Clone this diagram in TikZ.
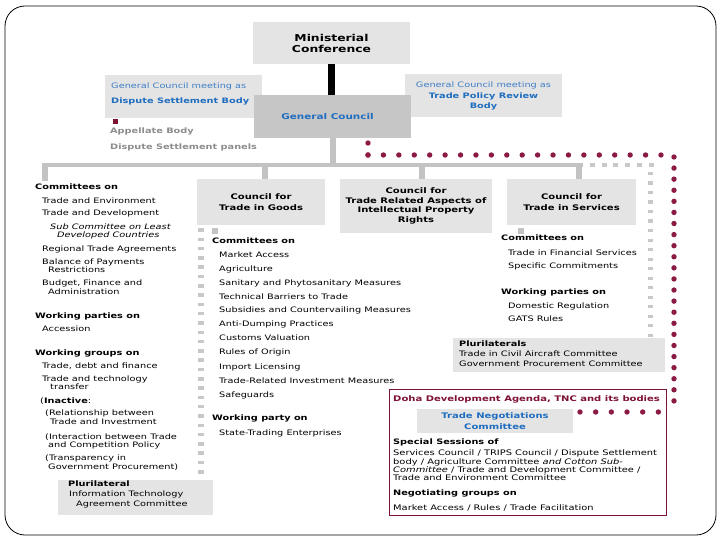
\documentclass[tikz,border=0pt]{standalone}
\usepackage{fontspec}
\setmainfont{DejaVu Sans}[FakeStretch=1.3]
\usetikzlibrary{calc}
\definecolor{boxlt}{HTML}{E4E4E4}
\definecolor{boxdk}{HTML}{C6C6C6}
\definecolor{blu}{HTML}{1F6DBF}
\definecolor{blult}{HTML}{3E7EC6}
\definecolor{maroon}{HTML}{7E1233}
\definecolor{dotc}{HTML}{8B1A45}
\definecolor{gtxt}{HTML}{8C8C8C}
\definecolor{glin}{HTML}{C3C3C3}
\definecolor{gsq}{HTML}{C8C8C8}
\begin{document}
\begin{tikzpicture}[x=1pt,y=-1pt,
  bx/.style={fill=boxlt, draw=none, inner sep=0pt, align=center},
  tx/.style={anchor=base west, inner sep=0pt, font=\fontsize{7.5}{9}\selectfont},
  hd/.style={anchor=base west, inner sep=0pt, font=\fontsize{7.5}{9}\selectfont\bfseries},
  it/.style={anchor=base west, inner sep=0pt, font=\fontsize{7.5}{9}\selectfont\itshape},
  dx/.style={anchor=base west, inner sep=0pt, font=\fontsize{7.6}{8}\selectfont},
  blackbar/.style={line width=6.5pt, black},
  gline/.style={line width=6pt, glin},
  hbar/.style={line width=4pt, glin},
  gsqh/.style={line width=3.5pt, gsq, dash pattern=on 5pt off 6.7pt},
  gsqv/.style={line width=5pt, gsq, dash pattern=on 3.2pt off 6.3pt},
  gsqv2/.style={line width=6.5pt, gsq, dash pattern=on 3.5pt off 5.8pt},
  rdot/.style={line width=5.4pt, dotc, line cap=round},
]
\useasboundingbox (0,0) rectangle (720,540);
\draw[rounded corners=20pt, line width=0.8pt] (5,6) rectangle (716,535);

% boxes
\node[bx, minimum width=157pt, minimum height=42pt, font=\fontsize{9.5}{11}\selectfont\bfseries] (mc) at (331.5,43) {Ministerial\\Conference};
\node[bx, minimum width=157pt, minimum height=43pt] (dsb) at (183.5,96.5) {};
\node[bx, minimum width=157pt, minimum height=43pt, font=\fontsize{7.5}{10}\selectfont, text=blu] (tprb) at (483.5,96) {{\color{blult}General Council meeting as}\\[1.5pt]\bfseries Trade Policy Review\\\bfseries Body};
\node[bx, fill=boxdk, minimum width=157pt, minimum height=43pt, font=\fontsize{8}{10}\selectfont\bfseries, text=blu] (gc) at (332.5,116.5) {General Council\hspace*{10pt}};

\node[bx, minimum width=128pt, minimum height=46pt, font=\fontsize{7.7}{10.5}\selectfont\bfseries] (goods) at (261,202) {Council for\\Trade in Goods};
\node[bx, minimum width=152pt, minimum height=54pt, font=\fontsize{7.7}{9.4}\selectfont\bfseries] (trips) at (416,206) {Council for\\Trade Related Aspects of\\Intellectual Property\\Rights};
\node[bx, minimum width=129pt, minimum height=46pt, font=\fontsize{7.7}{10.5}\selectfont\bfseries] (serv) at (571.5,202) {Council for\\Trade in Services};

\node[bx, minimum width=155pt, minimum height=35pt] (pl1) at (135.5,497.5) {};
\node[bx, minimum width=212pt, minimum height=34pt] (pl2) at (559,355) {};
\node[draw=maroon, line width=1pt, fill=white, inner sep=0pt, minimum width=277pt, minimum height=126pt] (doha) at (527.5,452) {};
\node[bx, minimum width=156pt, minimum height=24pt, font=\fontsize{7.7}{11}\selectfont\bfseries, text=blu] (tnc) at (495,421) {Trade Negotiations\\Committee};

% connectors
\coordinate (barL) at (42,165);
\coordinate (barR) at (583,165);
\coordinate (sqcol) at (650.5,172);
\draw[blackbar] (mc.south) -- (mc.south |- gc.north);
\draw[gline] (gc.south) -- (gc.south |- barL);
\draw[hbar] (barL) -- (barR);
\draw[gline] ($(barL)+(3,0)$) -- ++(0,16);
\draw[gline] ([xshift=4pt]goods.north |- barL) -- ([xshift=4pt]goods.north);
\draw[gline] ([xshift=5.5pt]trips.north |- barL) -- ([xshift=5.5pt]trips.north);
\draw[gline] ([xshift=7pt]serv.north |- barL) -- ([xshift=7pt]serv.north);
% small stubs under councils
\draw[gline] ($(goods.south west)+(18,3)$) -- ++(0,6);
\draw[gline] ($(serv.south west)+(14,3)$) -- ++(0,6);
% gray square connectors
\draw[gsqh] ($(barR)+(7,0)$) -- (654,165);
\draw[gsqv] (sqcol) -- (sqcol |- pl2.north);
\draw[gsqv2] ($(goods.south west)+(4,3)$) -- ($(goods.south west |- pl1.north)+(4,-2)$);

% red dotted connector GC -> TNC
\coordinate (d0) at (368,143);
\coordinate (d1) at (368,155);
\coordinate (d2) at (661,155);
\coordinate (d3) at (674,157);
\coordinate (d4) at (674,412);
\coordinate (d5) at (580,412);
\draw[rdot, dash pattern=on 0pt off 12pt] (d0) -- (d1);
\draw[rdot, dash pattern=on 0pt off 15.42pt] (d1) -- (d2);
\draw[rdot, dash pattern=on 0pt off 11.087pt] (d3) -- (d4);
\draw[rdot, dash pattern=on 0pt off 15.67pt] (d5) -- (d4);

% DSB texts
\node[tx, text=blult] (f1) at (111,88.5) {General Council meeting as};
\node[hd, text=blu] (f2) at (111,103.5) {Dispute Settlement Body};
\fill[maroon] (113,119) rectangle (118,124);
\node[hd, text=gtxt] (f3) at (110,134) {Appellate Body};
\node[hd, text=gtxt] (f4) at (110,149.5) {Dispute Settlement panels};

% left column
\node[hd] (a1) at (35,189.5) {Committees on};
\node[tx] (a2) at (42,203.5) {Trade and Environment};
\node[tx] (a3) at (42,215.5) {Trade and Development};
\node[it] (a4) at (50,229.5) {Sub Committee on Least};
\node[it] (a5) at (57,237.5) {Developed Countries};
\node[tx] (a6) at (42,251.5) {Regional Trade Agreements};
\node[tx] (a7) at (42,264.5) {Balance of Payments};
\node[tx] (a8) at (48,272.5) {Restrictions};
\node[tx] (a9) at (42,285.5) {Budget, Finance and};
\node[tx] (a10) at (48,294.5) {Administration};
\node[hd] (a11) at (35,318.5) {Working parties on};
\node[tx] (a12) at (42,331.5) {Accession};
\node[hd] (a13) at (35,355.5) {Working groups on};
\node[tx] (a14) at (42,368.5) {Trade, debt and finance};
\node[tx] (a15) at (42,381.5) {Trade and technology};
\node[tx] (a16) at (50,389.5) {transfer};
\node[tx] (a17) at (40,403.5) {(\textbf{Inactive}:};
\node[tx] (a18) at (45,415.5) {(Relationship between};
\node[tx] (a19) at (50,424.5) {Trade and Investment};
\node[tx] (a20) at (45,439.5) {(Interaction between Trade};
\node[tx] (a21) at (48,447.5) {and Competition Policy};
\node[tx] (a22) at (45,460.5) {(Transparency in};
\node[tx] (a23) at (48,469.5) {Government Procurement)};
\node[hd] (a24) at (68,486.5) {Plurilateral};
\node[tx] (a25) at (69,496.5) {Information Technology};
\node[tx] (a26) at (76,506.5) {Agreement Committee};

% middle column
\node[hd] (b1) at (212,243.5) {Committees on};
\node[tx] (b2) at (219,257.5) {Market Access};
\node[tx] (b3) at (219,271.5) {Agriculture};
\node[tx] (b4) at (219,285.5) {Sanitary and Phytosanitary Measures};
\node[tx] (b5) at (219,299.5) {Technical Barriers to Trade};
\node[tx] (b6) at (219,312.5) {Subsidies and Countervailing Measures};
\node[tx] (b7) at (219,326.5) {Anti-Dumping Practices};
\node[tx] (b8) at (219,340.5) {Customs Valuation};
\node[tx] (b9) at (219,354.5) {Rules of Origin};
\node[tx] (b10) at (219,369.5) {Import Licensing};
\node[tx] (b11) at (219,383.5) {Trade-Related Investment Measures};
\node[tx] (b12) at (219,397.5) {Safeguards};
\node[hd] (b13) at (212,420.5) {Working party on};
\node[tx] (b14) at (219,435.5) {State-Trading Enterprises};

% services column
\node[hd] (c1) at (501,240.5) {Committees on};
\node[tx] (c2) at (508,255.5) {Trade in Financial Services};
\node[tx] (c3) at (508,268.5) {Specific Commitments};
\node[hd] (c4) at (501,294.5) {Working parties on};
\node[tx] (c5) at (508,308.5) {Domestic Regulation};
\node[tx] (c6) at (508,321.5) {GATS Rules};
\node[hd] (d1t) at (459,346.5) {Plurilaterals};
\node[tx] (d2t) at (459,356) {Trade in Civil Aircraft Committee};
\node[tx] (d3t) at (459,366) {Government Procurement Committee};

% Doha box texts
\node[hd, text=maroon, font=\fontsize{7.7}{9}\selectfont\bfseries] (e1) at (393,401.5) {Doha Development Agenda, TNC and its bodies};
\node[hd] (e2) at (393,444.5) {Special Sessions of};
\node[dx] (e3) at (393,455.5) {Services Council / TRIPS Council / Dispute Settlement};
\node[dx] (e4) at (393,464) {body / Agriculture Committee \textit{and Cotton Sub-}};
\node[dx] (e5) at (393,472) {\textit{Committee} / Trade and Development Committee /};
\node[dx] (e6) at (393,480) {Trade and Environment Committee};
\node[hd] (e7) at (393,495.5) {Negotiating groups on};
\node[dx] (e8) at (393,510.5) {Market Access / Rules / Trade Facilitation};
\end{tikzpicture}
\end{document}
